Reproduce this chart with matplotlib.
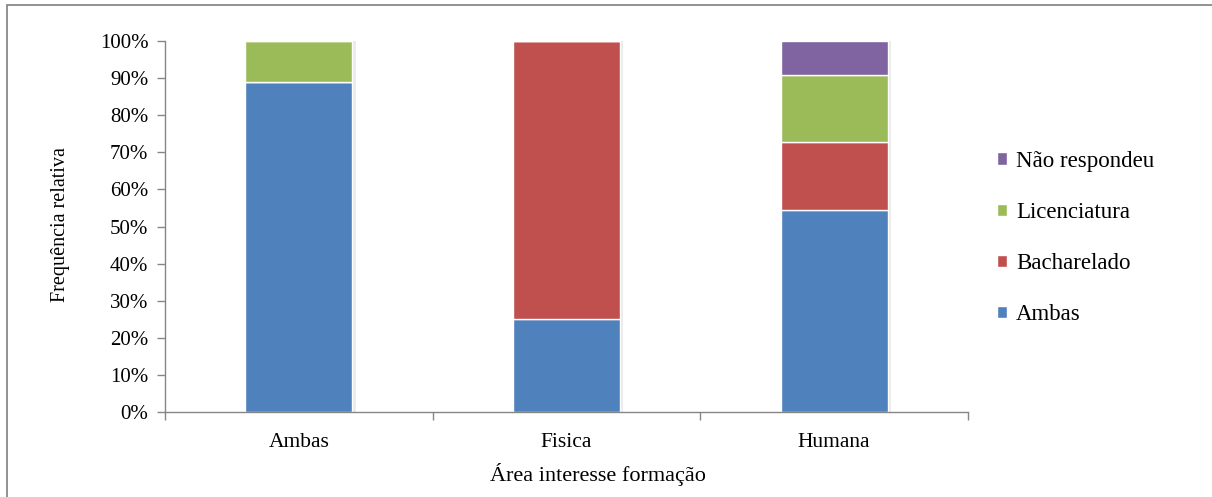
import matplotlib
matplotlib.use("Agg")
import matplotlib.pyplot as plt
from matplotlib.patches import Rectangle
from matplotlib.ticker import FixedLocator, PercentFormatter
import numpy as np

plt.rcParams['font.family'] = ['Liberation Serif', 'DejaVu Serif']

# Data: relative frequency (%) per area of interest
categories = ["Ambas", "Fisica", "Humana"]
series_names = ["Ambas", "Bacharelado", "Licenciatura", "Não respondeu"]
ambas = [88.9, 25.0, 54.5]
bacharelado = [0.0, 75.0, 18.2]
licenciatura = [11.1, 0.0, 18.2]
nao_respondeu = [0.0, 0.0, 9.1]
colors = ["#4F81BD", "#C0504D", "#9BBB59", "#8064A2"]

W, H = 1212, 497
fig = plt.figure(figsize=(W / 100, H / 100), dpi=100)
ax = fig.add_axes([165 / W, 1 - 412 / H, (968 - 165) / W, (412 - 41) / H])

# Outer chart frame
fig.patches.append(Rectangle((7 / W, -0.05), 1.2, 1 - 5 / H + 0.05,
                             transform=fig.transFigure, fill=False,
                             edgecolor="#7f7f7f", linewidth=1.2, zorder=0))

x = np.arange(len(categories))
bottom = np.zeros(len(categories))
handles = []
for name, vals, col in zip(series_names,
                           [ambas, bacharelado, licenciatura, nao_respondeu],
                           colors):
    vals = np.array(vals)
    # soft shadow behind each segment
    ax.bar(x + 0.012, vals, bottom=bottom, width=0.4, color="#000000",
           alpha=0.08, linewidth=0, zorder=1)
    b = ax.bar(x, vals, bottom=bottom, width=0.4, color=col,
               edgecolor="white", linewidth=1.0, zorder=2, label=name)
    handles.append(b)
    bottom = bottom + vals

ax.set_xlim(-0.5, 2.5)
ax.set_ylim(0, 100)
ax.yaxis.set_major_locator(FixedLocator(np.arange(0, 101, 10)))
ax.yaxis.set_major_formatter(PercentFormatter(decimals=0))
ax.set_xticks(x)
ax.set_xticklabels(categories)
ax.set_xticks([-0.5, 0.5, 1.5, 2.5], minor=True)
ax.tick_params(axis="x", which="major", length=0, pad=15, labelsize=15.5)
ax.tick_params(axis="x", which="minor", length=6, color="#868686", width=1)
ax.tick_params(axis="y", length=6, color="#868686", width=1, labelsize=15, pad=6)

for s in ["top", "right"]:
    ax.spines[s].set_visible(False)
for s in ["left", "bottom"]:
    ax.spines[s].set_color("#868686")
    ax.spines[s].set_linewidth(1)

ax.set_ylabel("Frequência relativa", fontsize=14.5)
ax.yaxis.set_label_coords((60 - 165) / (968 - 165), 0.505)
ax.set_xlabel("Área interesse formação", fontsize=16)
ax.xaxis.set_label_coords((598 - 165) / (968 - 165), -(475 - 412) / (412 - 41))
ax.xaxis.label.set_va("center")
ax.yaxis.label.set_va("center")

leg = fig.legend(handles[::-1], series_names[::-1], loc="center left",
                 bbox_to_anchor=(976 / W, 1 - 238 / H), frameon=False,
                 fontsize=16.5, handlelength=0.45, handleheight=0.45,
                 handletextpad=0.4, labelspacing=1.32)

fig.savefig("out.png", dpi=100)
